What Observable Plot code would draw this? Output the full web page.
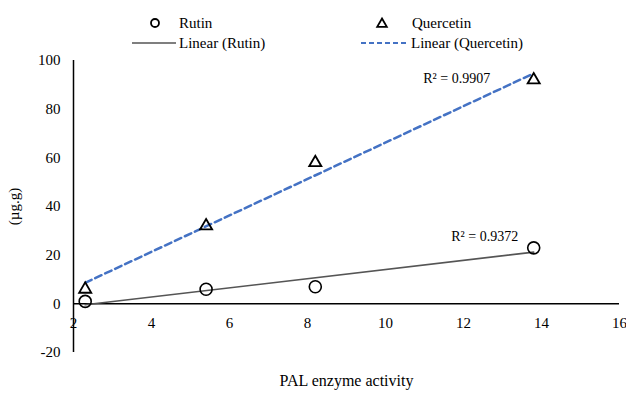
<!DOCTYPE html>
<html>
<head>
<meta charset="utf-8">
<script src="https://cdn.jsdelivr.net/npm/d3@7"></script>
<script src="https://cdn.jsdelivr.net/npm/@observablehq/plot@0.6"></script>
<style>
  body { margin: 0; background: #fff; font-family: "Liberation Serif", "Times New Roman", serif; }
  #wrap { position: relative; width: 626px; height: 398px; }
  #legend { position: absolute; left: 0; top: 0; z-index: 2; }
  #chart { position: absolute; left: 0; top: 52px; z-index: 1; }
  svg text { font-family: "Liberation Serif", "Times New Roman", serif; }
</style>
</head>
<body>
<div id="wrap"><div id="legend"></div><div id="chart"></div></div>
<script>
// ---- data ----
const activity = [2.3, 5.4, 8.2, 13.8];
const rutin = [1, 6, 7, 23];
const quercetin = [6, 32, 58, 92];
const seriesNames = ["Rutin", "Quercetin"];
const r2Labels = ["R² = 0.9372", "R² = 0.9907"];
const xTicks = [2, 4, 6, 8, 10, 12, 14, 16];
const yTicks = [-20, 0, 20, 40, 60, 80, 100];
const xLabel = "PAL enzyme activity";
const yLabel = "(µg.g)";

const blue = "#4472C4";
const font = '"Liberation Serif", "Times New Roman", serif';

const rutinData = activity.map((x, i) => ({x, y: rutin[i]}));
const quercData = activity.map((x, i) => ({x, y: quercetin[i]}));
const lastR = [{...rutinData[rutinData.length - 1], label: r2Labels[0]}];
const lastQ = [{...quercData[quercData.length - 1], label: r2Labels[1]}];

const chart = Plot.plot({
  width: 626,
  height: 346,
  marginLeft: 73,
  marginRight: 7,
  marginTop: 8,
  marginBottom: 46,
  style: {fontFamily: font, fontSize: "15px", color: "#000", background: "#fff"},
  x: {domain: [2, 16], axis: null},
  y: {domain: [-20, 100], ticks: yTicks, tickSize: 0, tickPadding: 13, label: null, tickFormat: d => String(d)},
  marks: [
    Plot.ruleX([xTicks[0]], {stroke: "#000", strokeWidth: 1.5}),
    Plot.ruleY([0], {stroke: "#000", strokeWidth: 1.5}),
    Plot.text(xTicks, {x: d => d, y: 0, dy: 19, text: d => String(d), fontSize: 15}),
    Plot.text([xLabel], {frameAnchor: "bottom", dy: 33, fontSize: 16}),
    Plot.text([yLabel], {frameAnchor: "left", dx: -59, rotate: -90, textAnchor: "middle", lineAnchor: "middle", fontSize: 15}),
    Plot.linearRegressionY(rutinData, {x: "x", y: "y", ci: 0, stroke: "#555", strokeWidth: 1.6}),
    Plot.linearRegressionY(quercData, {x: "x", y: "y", ci: 0, stroke: blue, strokeWidth: 2.5, strokeDasharray: "7,4"}),
    Plot.dot(rutinData, {x: "x", y: "y", r: 6, stroke: "#000", strokeWidth: 1.6, fill: "none"}),
    Plot.dot(quercData, {x: "x", y: "y", symbol: "triangle", r: 4.5, stroke: "#000", strokeWidth: 1.8, fill: "none"}),
    Plot.text(lastR, {x: "x", y: "y", text: "label", dx: -49, dy: -11, fontSize: 14}),
    Plot.text(lastQ, {x: "x", y: "y", text: "label", dx: -77, dy: -1, fontSize: 14})
  ]
});
document.getElementById("chart").appendChild(chart);

// ---- legend (HTML/SVG, layout only) ----
const lg = d3.select("#legend").append("svg").attr("width", 626).attr("height", 58)
  .style("font-family", font).style("font-size", "15px");
const items = [
  {kind: "circle", label: seriesNames[0], sx: 155, tx: 179, y: 23},
  {kind: "triangle", label: seriesNames[1], sx: 382, tx: 412, y: 23},
  {kind: "line", label: "Linear (" + seriesNames[0] + ")", sx: 132, tx: 179, y: 43},
  {kind: "dash", label: "Linear (" + seriesNames[1] + ")", sx: 361, tx: 411, y: 43}
];
for (const it of items) {
  if (it.kind === "circle") {
    lg.append("circle").attr("cx", it.sx).attr("cy", it.y).attr("r", 4).attr("fill", "none").attr("stroke", "#000").attr("stroke-width", 1.8);
  } else if (it.kind === "triangle") {
    lg.append("path").attr("d", d3.symbol(d3.symbolTriangle, 40)()).attr("transform", `translate(${it.sx},${it.y + 1})`).attr("fill", "none").attr("stroke", "#000").attr("stroke-width", 1.8);
  } else if (it.kind === "line") {
    lg.append("line").attr("x1", it.sx).attr("x2", it.tx - 3).attr("y1", it.y).attr("y2", it.y).attr("stroke", "#555").attr("stroke-width", 1.6);
  } else {
    lg.append("line").attr("x1", it.sx).attr("x2", it.tx - 2).attr("y1", it.y).attr("y2", it.y).attr("stroke", blue).attr("stroke-width", 2.2).attr("stroke-dasharray", "5,3");
  }
  lg.append("text").attr("x", it.tx).attr("y", it.y).attr("dy", "0.32em").text(it.label);
}
</script>
</body>
</html>
